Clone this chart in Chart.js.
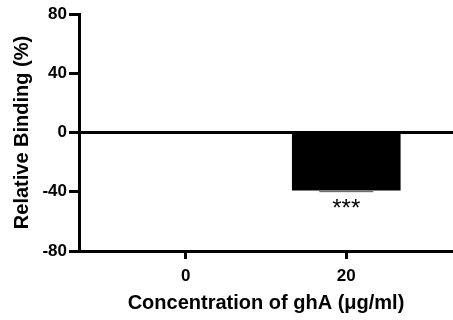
<!DOCTYPE html>
<html>
<head>
<meta charset="utf-8">
<script src="https://cdn.jsdelivr.net/npm/chart.js@4"></script>
<style>
  html, body { margin: 0; padding: 0; background: #fff; }
  #wrap { width: 453px; height: 320px; }
</style>
</head>
<body>
<div id="wrap"><canvas id="chart"></canvas></div>
<script>
const categories = ['0', '20'];
const binding = [0, -39];
const errors = [0, 0.6];
const stars = ['', '***'];

const FONT = "'Liberation Sans', Arial, sans-serif";

// error caps + significance marks under each bar
const annotate = {
  id: 'annotate',
  afterDatasetsDraw(chart) {
    const { ctx, scales: { y } } = chart;
    const meta = chart.getDatasetMeta(0);
    ctx.save();
    meta.data.forEach((bar, i) => {
      const low = y.getPixelForValue(binding[i] - errors[i]);
      if (errors[i]) {
        const half = bar.width * 0.25;
        ctx.strokeStyle = '#555';
        ctx.lineWidth = 1;
        ctx.beginPath();
        ctx.moveTo(bar.x - half, low + 0.5);
        ctx.lineTo(bar.x + half, low + 0.5);
        ctx.stroke();
      }
      if (stars[i]) {
        ctx.fillStyle = '#000';
        ctx.font = '24px ' + FONT;
        ctx.textAlign = 'center';
        ctx.textBaseline = 'top';
        ctx.fillText(stars[i], bar.x, low + 6);
      }
    });
    ctx.restore();
  },
};

new Chart(document.getElementById('chart'), {
  type: 'bar',
  data: {
    datasets: [{
      data: binding.map((v, i) => ({ x: i, y: v })),
      backgroundColor: '#000',
      borderWidth: 0,
      barThickness: 108,
    }],
  },
  options: {
    responsive: true, maintainAspectRatio: false, animation: false,
    layout: { padding: { top: 14, right: 0, left: 0, bottom: 0 } },
    plugins: { legend: { display: false }, tooltip: { enabled: false } },
    scales: {
      x: {
        type: 'linear', min: -0.665, max: 1.665, offset: false,
        afterBuildTicks: s => { s.ticks = categories.map((_, i) => ({ value: i })); },
        afterFit: s => { s.height = 69; },
        border: { color: '#000', width: 3 },
        grid: { offset: false, drawOnChartArea: false, color: '#000', tickColor: '#000', tickLength: 8, lineWidth: 3 },
        ticks: { color: '#000', font: { family: FONT, size: 17, weight: 'bold' }, padding: 7, callback: v => categories[v] },
        title: { display: true, text: 'Concentration of ghA (μg/ml)', color: '#000', font: { family: FONT, size: 20, weight: 'bold' }, padding: { top: 0, bottom: 5 } },
      },
      y: {
        min: -80, max: 80,
        afterFit: s => { s.width = 79; },
        border: { color: '#000', width: 3 },
        grid: {
          color: c => c.tick && c.tick.value === 0 ? '#000' : 'rgba(0,0,0,0)',
          lineWidth: 3, tickColor: '#000', tickLength: 10, tickWidth: 3,
        },
        ticks: { stepSize: 40, color: '#000', font: { family: FONT, size: 17, weight: 'bold' }, padding: 2 },
        title: { display: true, text: 'Relative Binding (%)', color: '#000', font: { family: FONT, size: 20, weight: 'bold' }, padding: { top: 10, bottom: 0 } },
      },
    },
  },
  plugins: [annotate],
});
</script>
</body>
</html>
